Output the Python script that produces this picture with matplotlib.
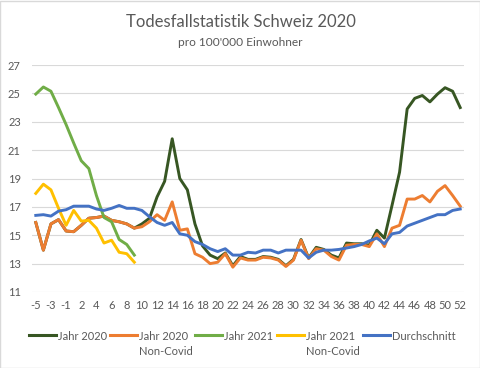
import matplotlib
matplotlib.use("Agg")
import matplotlib.pyplot as plt
from matplotlib.lines import Line2D
from matplotlib.patches import Rectangle

plt.rcParams['font.family'] = ['Lato', 'DejaVu Sans']

# ---------------------------------------------------------------
# Data (per 100'000 inhabitants, by calendar week)
# ---------------------------------------------------------------
weeks = [-5, -4, -3, -2, -1] + list(range(1, 53))
tick_labels = [str(w) if i % 2 == 0 else '' for i, w in enumerate(weeks)]

jahr_2020 = [15.9, 13.95, 15.8, 16.1, 15.3, 15.25, 15.7, 16.2, 16.25, 16.35,
             16.05, 15.95, 15.8, 15.5, 15.8, 16.2, 17.7, 18.8, 21.8, 19.0,
             18.2, 15.8, 14.25, 13.6, 13.35, 13.75, 12.85, 13.5, 13.3, 13.3,
             13.5, 13.45, 13.3, 12.85, 13.3, 14.7, 13.4, 14.15, 14.0, 13.6,
             13.4, 14.45, 14.4, 14.4, 14.3, 15.35, 14.8, 17.1, 19.45, 23.9,
             24.65, 24.85, 24.4, 24.95, 25.4, 25.15, 24.0]

jahr_2020_noncovid = [15.9, 13.95, 15.8, 16.1, 15.3, 15.25, 15.7, 16.2, 16.25, 16.35,
                      16.05, 15.95, 15.8, 15.5, 15.6, 15.95, 16.45, 16.05, 17.35, 15.35,
                      15.45, 13.7, 13.45, 13.0, 13.1, 13.7, 12.75, 13.4, 13.25, 13.25,
                      13.45, 13.4, 13.25, 12.8, 13.25, 14.65, 13.35, 14.05, 13.95, 13.5,
                      13.25, 14.3, 14.35, 14.35, 14.2, 15.1, 14.2, 15.5, 15.7, 17.55,
                      17.55, 17.8, 17.35, 18.1, 18.5, 17.8, 17.05]

jahr_2021 = [24.95, 25.45, 25.15, 24.0, 22.8, 21.5, 20.25, 19.7, 17.8, 16.25,
             15.95, 14.7, 14.35, 13.6]

jahr_2021_noncovid = [17.95, 18.6, 18.2, 16.9, 15.7, 16.75, 16.0, 16.05, 15.5, 14.45,
                      14.65, 13.8, 13.7, 13.1]

durchschnitt = [16.4, 16.45, 16.35, 16.7, 16.8, 17.05, 17.05, 17.05, 16.85, 16.75,
                16.9, 17.1, 16.9, 16.9, 16.75, 16.3, 15.9, 15.7, 15.9, 15.1,
                15.0, 14.55, 14.35, 14.05, 13.85, 14.05, 13.6, 13.6, 13.8, 13.75,
                13.95, 13.95, 13.75, 13.95, 13.95, 13.95, 13.4, 13.8, 13.95, 13.95,
                14.0, 14.1, 14.2, 14.35, 14.6, 14.8, 14.4, 15.1, 15.2, 15.65,
                15.85, 16.05, 16.25, 16.45, 16.45, 16.75, 16.85]

series = [
    ('Jahr 2020', jahr_2020, '#375623'),
    ('Jahr 2020\nNon-Covid', jahr_2020_noncovid, '#ED7D31'),
    ('Jahr 2021', jahr_2021, '#70AD47'),
    ('Jahr 2021\nNon-Covid', jahr_2021_noncovid, '#FFC000'),
    ('Durchschnitt', durchschnitt, '#4472C4'),
]

txt = '#595959'
grid = '#d9d9d9'

# ---------------------------------------------------------------
# Figure
# ---------------------------------------------------------------
fig = plt.figure(figsize=(4.81, 3.68), dpi=100)
ax = fig.add_axes([32 / 481, 1 - 292 / 368, 432 / 481, 227 / 368])

x = list(range(len(weeks)))
for name, vals, col in series:
    ax.plot(x[:len(vals)], vals, color=col, lw=2.1, solid_joinstyle='round')

ax.set_xlim(-0.5, len(weeks) - 0.5)
ax.set_ylim(11, 27)
ax.set_yticks(range(11, 28, 2))
ax.set_xticks(x)
ax.set_xticklabels(tick_labels)
ax.tick_params(axis='both', length=0, colors=txt, labelsize=8)
ax.tick_params(axis='y', pad=8)
ax.tick_params(axis='x', pad=6)
ax.grid(axis='y', color=grid, lw=0.8)
ax.set_axisbelow(True)
for s in ax.spines.values():
    s.set_visible(False)

# titles
fig.text(0.5, 1 - 22 / 368, 'Todesfallstatistik Schweiz 2020', ha='center', va='center',
         fontsize=12, color=txt)
fig.text(0.5, 1 - 42 / 368, "pro 100'000 Einwohner", ha='center', va='center',
         fontsize=8.6, color=txt)

# legend, handle aligned with the first text line
leg_x = [(29, 56, 58), (110, 137, 139), (195, 222, 224), (277, 304, 306), (363, 390, 392)]
ly = 1 - 335 / 368
for (name, vals, col), (x0, x1, tx) in zip(series, leg_x):
    fig.add_artist(Line2D([x0 / 481, x1 / 481], [ly, ly], color=col, lw=2.2,
                          transform=fig.transFigure))
    fig.text(tx / 481, ly + 0.012, name, ha='left', va='top', fontsize=8, color=txt,
             linespacing=1.45)

fig.add_artist(Rectangle((0.001, 0.001), 0.997, 0.996, transform=fig.transFigure,
                         fill=False, edgecolor=grid, lw=1))

fig.savefig('out.png', dpi=100)
